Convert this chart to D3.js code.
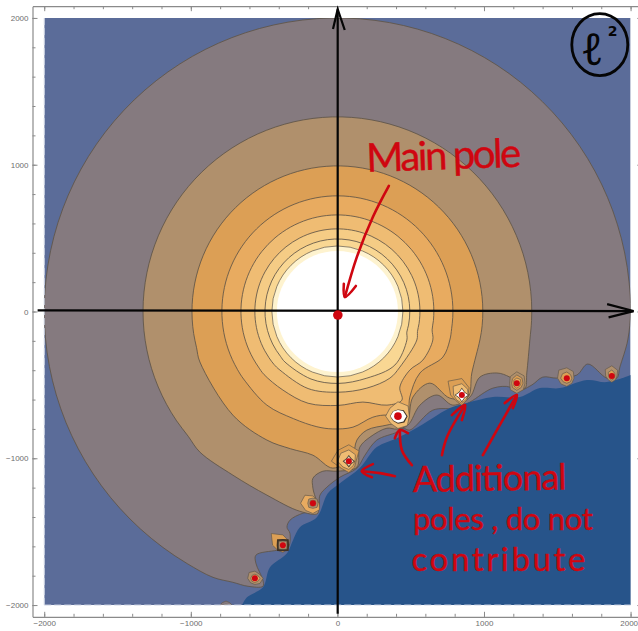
<!DOCTYPE html>
<html>
<head>
<meta charset="utf-8">
<style>
  html, body { margin: 0; padding: 0; background: #fff; }
  svg { display: block; }
</style>
<script src="https://cdn.jsdelivr.net/npm/d3@7"></script>
</head>
<body>
<div id="chart"></div>
<script>
// Tick labels and tick positions
const majorTicks = [-2000, -1000, 0, 1000, 2000];
const minorTicks = d3.range(-2000, 2001, 200);

// Radii of the round part of each contour, outermost first
const contourRadius = [2000, 1326, 992, 788, 658, 563, 494];
const creamRadius = 447;
const whiteRadius = 413;

// Lower part of each contour, left to right
const contour0 = [[-849,-1811],[-713,-1845],[-610,-1872],[-508,-1872],[-508,-1831],[-556,-1715],[-556,-1660],[-413,-1627],[-338,-1613],[-324,-1511],[-344,-1470],[-324,-1422],[-235,-1374],[-133,-1354],[-119,-1251],[-72,-1197],[17,-1129],[133,-1067],[188,-979],[269,-876],[406,-822],[447,-795],[494,-808],[651,-672],[815,-658],[904,-617],[1061,-522],[1176,-515],[1210,-549],[1326,-501],[1401,-447],[1497,-454],[1633,-433],[1708,-358],[1838,-454],[1906,-454],[1927,-379],[1981,-194]];
const contour1 = [[-938,-958],[-713,-1115],[-481,-1251],[-256,-1361],[-133,-1374],[-167,-1204],[-167,-1136],[-99,-1088],[3,-1088],[133,-1060],[153,-924],[222,-856],[338,-795],[406,-801],[481,-774],[563,-638],[679,-569],[788,-638],[904,-583],[972,-447],[1088,-419],[1176,-447],[1279,-522],[1292,-419],[1313,-194]];
const contour2 = [[-938,-344],[-713,-706],[-481,-876],[-320,-935],[-167,-979],[-31,-1067],[99,-992],[133,-876],[201,-808],[338,-774],[406,-760],[474,-754],[515,-583],[631,-488],[767,-590],[890,-583],[917,-419],[972,-194]];
const contour3 = [[-640,-460],[-481,-638],[-300,-730],[-140,-785],[-31,-800],[106,-788],[242,-720],[344,-706],[474,-740],[494,-583],[563,-419],[720,-310],[767,-194]];
const contour4 = [[-500,-430],[-372,-535],[-200,-625],[3,-640],[174,-617],[338,-638],[440,-604],[426,-515],[494,-399],[583,-331],[651,-194]];
const contour5 = [[-392,-399],[-200,-525],[3,-550],[201,-522],[358,-454],[426,-379],[542,-194]];
const contour6 = [[-358,-344],[-180,-460],[3,-490],[201,-454],[392,-365],[474,-194]];
const contours = [contour0, contour1, contour2, contour3, contour4, contour5, contour6];

// Edge of the dark region in the lower right
const darkEdge = [[-651,-2002],[-617,-1947],[-508,-1879],[-460,-1743],[-344,-1647],[-303,-1558],[-256,-1470],[-140,-1402],[-65,-1238],[17,-1170],[153,-1067],[269,-924],[406,-863],[515,-808],[651,-726],[767,-658],[883,-624],[1061,-583],[1245,-583],[1381,-522],[1517,-522],[1702,-467],[1838,-481],[2002,-433]];

// Additional poles: centres, then [level, radii N NE E SE S SW W NW] for each ring
const poleX = [413, 849, 78, 1224, -167, 1565, 1872, -372, -563, -760];
const poleY = [-713, -569, -1020, -488, -1306, -454, -440, -1592, -1818, -2008];
const poleRings = [
  [[4,98,98,77,91,84,70,84,77],[9,46,56,66,62,52,46,54,48],[8,42,49,58,52,45,42,51,45]],
  [[2,112,70,42,49,70,56,77,133],[4,77,56,42,42,56,49,56,84],[9,49,28,49,28,49,28,49,28],[8,42,24,42,24,42,24,42,24]],
  [[2,112,98,49,56,77,70,119,105],[4,77,63,42,42,56,56,77,77],[9,42,26,42,26,42,26,42,26],[7,35,21,35,21,35,21,35,21]],
  [[1,77,70,56,63,70,63,49,63],[2,56,49,42,42,49,42,35,42],[3,35,35,28,28,35,28,21,28]],
  [[3,49,35,42,63,70,70,84,77],[1,35,40,35,40,35,40,35,40],[3,20,24,20,24,20,24,20,24]],
  [[1,70,63,49,49,56,56,63,77],[2,42,35,35,35,35,35,42,42]],
  [[1,70,56,35,35,42,35,42,63],[2,42,28,21,21,28,21,21,35]],
  [[2,70,49,42,42,49,49,70,112],[9,42,56,42,56,42,56,42,56],[1,28,38,28,38,28,38,28,38],[8,14,14,14,14,14,14,14,14]],
  [[1,49,42,56,49,42,42,49,56],[3,28,28,35,28,28,28,28,28]],
  [[0,35,35,49,42,35,42,49,35],[1,14,14,21,14,14,14,21,14]]
];

// Hand drawn axes and arrows
const axisH = [[-2045,8],[2020,3]];
const axisHHead = [[1840,50],[2020,3],[1850,-40]];
const axisV = [[2,-2060],[2,2060]];
const axisVHead = [[-30,1925],[2,2060],[50,1918]];
const redArrows = [
  [[351,856],[242,644],[133,372],[51,99]],
  [[44,188],[51,99],[126,174]],
  [[508,-1047],[440,-945],[426,-808]],
  [[392,-863],[426,-808],[481,-829]],
  [[392,-1122],[290,-1101],[167,-1088]],
  [[242,-1040],[167,-1088],[235,-1129]],
  [[713,-979],[747,-856],[870,-638]],
  [[781,-706],[870,-638],[849,-740]],
  [[992,-979],[1088,-808],[1224,-569]],
  [[1142,-624],[1224,-569],[1197,-658]]
];

const width = 638, height = 631;
const x = d3.scaleLinear().domain([-2080, 2080]).range([32.5, 642.3]);
const y = d3.scaleLinear().domain([-2080, 2080]).range([616.8, 6.2]);

const levelColor = d3.scaleOrdinal()
  .domain(d3.range(10))
  .range(['#857a7f', '#b0906c', '#dc9f55', '#e8ab60', '#efbc73', '#f5cc85', '#f9d793', '#fef3cf', '#ffffff', '#3f3226']);

const svg = d3.select('#chart').append('svg')
  .attr('width', width)
  .attr('height', height)
  .attr('font-family', '"Liberation Sans", Arial, sans-serif');

svg.append('clipPath').attr('id', 'plot-clip').append('rect')
  .attr('x', x(-2000))
  .attr('y', y(2000))
  .attr('width', x(2000) - x(-2000))
  .attr('height', y(-2000) - y(2000));

const plot = svg.append('g').attr('clip-path', 'url(#plot-clip)');

plot.append('rect')
  .attr('x', x(-2000))
  .attr('y', y(2000))
  .attr('width', x(2000) - x(-2000))
  .attr('height', y(-2000) - y(2000))
  .attr('fill', '#5b6c99');

const smooth = d3.line().x(d => x(d[0])).y(d => y(d[1])).curve(d3.curveCatmullRomClosed.alpha(0.5));
const smoothOpen = d3.line().x(d => x(d[0])).y(d => y(d[1])).curve(d3.curveCatmullRom.alpha(0.5));
const straight = d3.line().x(d => x(d[0])).y(d => y(d[1]));

// Closes the lower part of a contour with the arc over the top
const closeContour = (bottom, radius) => {
  const last = bottom[bottom.length - 1];
  const first = bottom[0];
  const from = Math.atan2(last[1], last[0]);
  const to = Math.atan2(first[1], first[0]) + 2 * Math.PI;
  const n = Math.ceil((to - from) / 0.1);
  const arc = d3.range(1, n).map(i => {
    const a = from + (to - from) * i / n;
    return [radius * Math.cos(a), radius * Math.sin(a)];
  });
  return bottom.concat(arc);
};

const contourStroke = '#5f5548';

plot.selectAll('path.contour')
  .data(contours)
  .enter()
  .append('path')
  .attr('class', 'contour')
  .attr('d', (d, i) => smooth(closeContour(d, contourRadius[i])))
  .attr('fill', (d, i) => levelColor(i))
  .attr('stroke', contourStroke)
  .attr('stroke-opacity', 0.85)
  .attr('stroke-width', 1);

plot.append('circle')
  .attr('cx', x(0))
  .attr('cy', y(0))
  .attr('r', x(creamRadius) - x(0))
  .attr('fill', levelColor(7))
  .attr('stroke', contourStroke)
  .attr('stroke-opacity', 0.7);

plot.append('circle')
  .attr('cx', x(0))
  .attr('cy', y(0))
  .attr('r', x(whiteRadius) - x(0))
  .attr('fill', '#ffffff');

// Dark region
plot.append('path')
  .attr('d', `${smoothOpen(darkEdge)}L${x(2002)},${y(-2002)}Z`)
  .attr('fill', '#27548a');

// Additional poles
poleRings.forEach((rings, p) => {
  rings.forEach(ring => {
    const pts = ring.slice(1).map((r, k) => {
      const a = k * Math.PI / 4;
      return [poleX[p] + r * Math.sin(a), poleY[p] + r * Math.cos(a)];
    });
    plot.append('path')
      .attr('d', `${straight(pts)}Z`)
      .attr('fill', levelColor(ring[0]))
      .attr('stroke', ring[0] === 9 || ring[0] === 8 ? 'none' : contourStroke)
      .attr('stroke-opacity', 0.8)
      .attr('stroke-width', 0.8);
  });
});

// Faint dashes along the lower and left edge of the picture
[[[-2000,-2000],[2000,-2000]],[[-2000,-2000],[-2000,2000]]].forEach(d => {
  svg.append('path')
    .attr('d', straight(d))
    .attr('stroke', '#cfd6e4')
    .attr('stroke-dasharray', '7,3')
    .attr('fill', 'none');
});

// Frame with ticks on all four sides
const styleAxis = g => {
  g.selectAll('.domain').attr('stroke', '#8a8a8a').attr('stroke-width', 1.2);
  g.selectAll('line').attr('stroke', '#8a8a8a');
  g.selectAll('text').attr('fill', '#6e6e6e').attr('font-size', 8);
};
const minus = d => (d < 0 ? `\u2212${-d}` : `${d}`);

[
  { axis: d3.axisBottom(x), at: [0, y.range()[0]] },
  { axis: d3.axisTop(x), at: [0, y.range()[1]] },
  { axis: d3.axisLeft(y), at: [x.range()[0], 0] },
  { axis: d3.axisRight(y), at: [x.range()[1], 0] }
].forEach(({ axis, at }, i) => {
  svg.append('g')
    .attr('transform', `translate(${at})`)
    .call(axis.tickValues(minorTicks).tickSizeInner(-3).tickSizeOuter(0).tickFormat(''))
    .call(styleAxis);
  const major = svg.append('g')
    .attr('transform', `translate(${at})`)
    .call(axis.tickValues(majorTicks).tickSizeInner(-5).tickSizeOuter(0).tickPadding(4)
      .tickFormat(i === 0 || i === 2 ? minus : ''))
    .call(styleAxis);
  major.select('.domain').remove();
  // the last label on the bottom axis sits against the window edge
  if (i === 0) {
    major.selectAll('text').filter(d => d === 2000).attr('text-anchor', 'end').attr('dx', 7);
  }
});

// Hand drawn annotations on top
const ink = '#050505';
const red = '#cf0610';

[axisH, axisHHead, axisV, axisVHead].forEach(d => {
  svg.append('path')
    .attr('d', straight(d))
    .attr('fill', 'none')
    .attr('stroke', ink)
    .attr('stroke-width', 2.2);
});

svg.selectAll('path.red-arrow')
  .data(redArrows)
  .enter()
  .append('path')
  .attr('class', 'red-arrow')
  .attr('d', d => smoothOpen(d))
  .attr('fill', 'none')
  .attr('stroke', red)
  .attr('stroke-width', 2.6)
  .attr('stroke-linecap', 'round');

svg.append('circle')
  .attr('cx', x(3))
  .attr('cy', y(-24))
  .attr('r', 4.8)
  .attr('fill', red);

svg.selectAll('circle.pole-dot')
  .data(poleX.slice(0, 9))
  .enter()
  .append('circle')
  .attr('class', 'pole-dot')
  .attr('cx', d => x(d))
  .attr('cy', (d, i) => y(poleY[i]))
  .attr('r', (d, i) => (i === 0 ? 3.8 : 3))
  .attr('fill', red);

// Handwritten notes
const notes = [
  { text: 'Main pole', x: 200, y: 950, size: 40, length: 155, rotate: -2 },
  { text: 'Additional', x: 515, y: -1230, size: 36, length: 154, rotate: -1 },
  { text: 'poles , do not', x: 515, y: -1490, size: 31, length: 180, rotate: 0 },
  { text: 'contribute', x: 505, y: -1770, size: 33, length: 174, rotate: 0 }
];

notes.forEach(n => {
  svg.append('text')
    .attr('transform', `translate(${x(n.x)},${y(n.y)}) rotate(${n.rotate})`)
    .attr('font-family', '"Lato", "Noto Sans", sans-serif')
    .attr('font-size', n.size)
    .attr('textLength', n.length)
    .attr('lengthAdjust', 'spacing')
    .attr('fill', red)
    .attr('stroke', red)
    .attr('stroke-width', 0.4)
    .text(n.text);
});

// l squared badge in the corner
svg.append('ellipse')
  .attr('cx', x(1790))
  .attr('cy', y(1818))
  .attr('rx', x(191) - x(0))
  .attr('ry', y(0) - y(211))
  .attr('fill', 'none')
  .attr('stroke', ink)
  .attr('stroke-width', 2.8);

svg.append('text')
  .attr('x', x(1790))
  .attr('y', y(1680))
  .attr('text-anchor', 'end')
  .attr('font-family', '"Noto Sans", "DejaVu Sans", sans-serif')
  .attr('font-size', 44)
  .attr('dx', 4)
  .attr('fill', ink)
  .text('\u2113');

svg.append('text')
  .attr('x', x(1845))
  .attr('y', y(1880))
  .attr('font-family', '"DejaVu Sans", sans-serif')
  .attr('font-size', 14)
  .attr('font-weight', 'bold')
  .attr('fill', ink)
  .text('2');
</script>
</body>
</html>
